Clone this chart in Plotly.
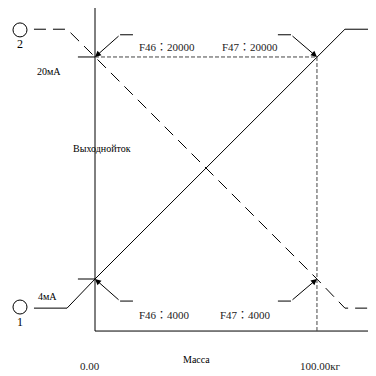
import plotly.graph_objects as go

# Schematic data (mass in kg, output current in mA)
mass_pts = [-27.5, -12.6, 0, 100, 112.6, 126.6]
current_up = [1.9, 1.9, 4, 20, 22.0, 22.0]      # characteristic 1 (solid)
current_down = [22.0, 22.0, 20, 4, 1.9, 1.9]    # characteristic 2 (dashed)
mass_min, mass_max = 0, 100
current_min, current_max = 4, 20
param_labels = ["F46：20000", "F47：20000", "F46：4000", "F47：4000"]
level_labels = ["20мА", "4мА"]
axis_labels = ["Выходнойток", "Масса"]
tick_labels = ["0.00", "100.00кг"]
curve_ids = ["1", "2"]

FONT = "Liberation Serif, DejaVu Serif, Noto Sans CJK JP, serif"
fig = go.Figure()

# characteristics
fig.add_trace(go.Scatter(x=mass_pts, y=current_up, mode="lines",
                         line=dict(color="black", width=1)))
fig.add_trace(go.Scatter(x=mass_pts, y=current_down, mode="lines",
                         line=dict(color="black", width=1, dash="12px,7px")))

# axes
fig.add_trace(go.Scatter(x=[mass_min, mass_min, 126.6], y=[23.75, 0.25, 0.25], mode="lines",
                         line=dict(color="black", width=1)))
# level ticks
for lvl in [current_min, current_max]:
    fig.add_trace(go.Scatter(x=[-7.7, mass_min], y=[lvl, lvl], mode="lines",
                             line=dict(color="black", width=1)))
# reference dashed lines
fig.add_trace(go.Scatter(x=[mass_min, mass_max, mass_max], y=[current_max, current_max, 0.25],
                         mode="lines", line=dict(color="#444", width=1, dash="4px,2px")))

# circles with numbers
fig.add_trace(go.Scatter(x=[-33.8, -33.8], y=[1.98, 21.95], mode="markers",
                         marker=dict(symbol="circle-open", size=14, color="black",
                                     line=dict(width=1))))
for cid, yy in zip(curve_ids, [0.9, 20.94]):
    fig.add_annotation(x=-33.8, y=yy, text=cid, showarrow=False,
                       font=dict(family=FONT, size=12, color="black"))

# leader arrows
leaders = [((17.1, 11.3), 21.6, (mass_min, current_max)),
           ((82.4, 88.3), 21.6, (mass_max, current_max)),
           ((17.1, 11.3), 2.41, (mass_min, current_min)),
           ((82.4, 88.3), 2.41, (mass_max, current_min))]
for (x0, x1), yl, (tx, ty) in leaders:
    fig.add_trace(go.Scatter(x=[x0, x1], y=[yl, yl], mode="lines",
                             line=dict(color="black", width=1)))
    fig.add_annotation(x=tx, y=ty, ax=x1, ay=yl, axref="x", ayref="y", text="",
                       showarrow=True, arrowhead=2, arrowsize=1.2, arrowwidth=1,
                       arrowcolor="black", standoff=0)

# parameter labels
for txt, xx, yy in zip(param_labels, [32.4, 69.8, 31.5, 67.6], [20.72, 20.72, 1.41, 1.41]):
    fig.add_annotation(x=xx, y=yy, text=txt, showarrow=False,
                       font=dict(family=FONT, size=11, color="#222"))

for txt, xx, yy in zip(level_labels, [-20.7, -21.6], [18.92, 2.77]):
    fig.add_annotation(x=xx, y=yy, text=txt, showarrow=False,
                       font=dict(family=FONT, size=10, color="black"))

fig.add_annotation(x=3.2, y=13.37, text=axis_labels[0], showarrow=False,
                   font=dict(family=FONT, size=10, color="black"))
fig.add_annotation(x=45.9, y=-1.77, text=axis_labels[1], showarrow=False,
                   font=dict(family=FONT, size=10, color="black"))
for txt, xx in zip(tick_labels, [-2.3, 101.4]):
    fig.add_annotation(x=xx, y=-2.27, text=txt, showarrow=False,
                   font=dict(family=FONT, size=11, color="#222"))

# page has an 8px body margin, so the figure covers page pixels 8..376
fig.update_layout(width=368, height=368, margin=dict(l=0, r=0, t=0, b=0),
                  plot_bgcolor="white", paper_bgcolor="white", showlegend=False,
                  xaxis=dict(range=[-39.2, 126.6], visible=False, fixedrange=True),
                  yaxis=dict(range=[-2.99, 23.53], visible=False, fixedrange=True))

fig.write_html("out.html")
